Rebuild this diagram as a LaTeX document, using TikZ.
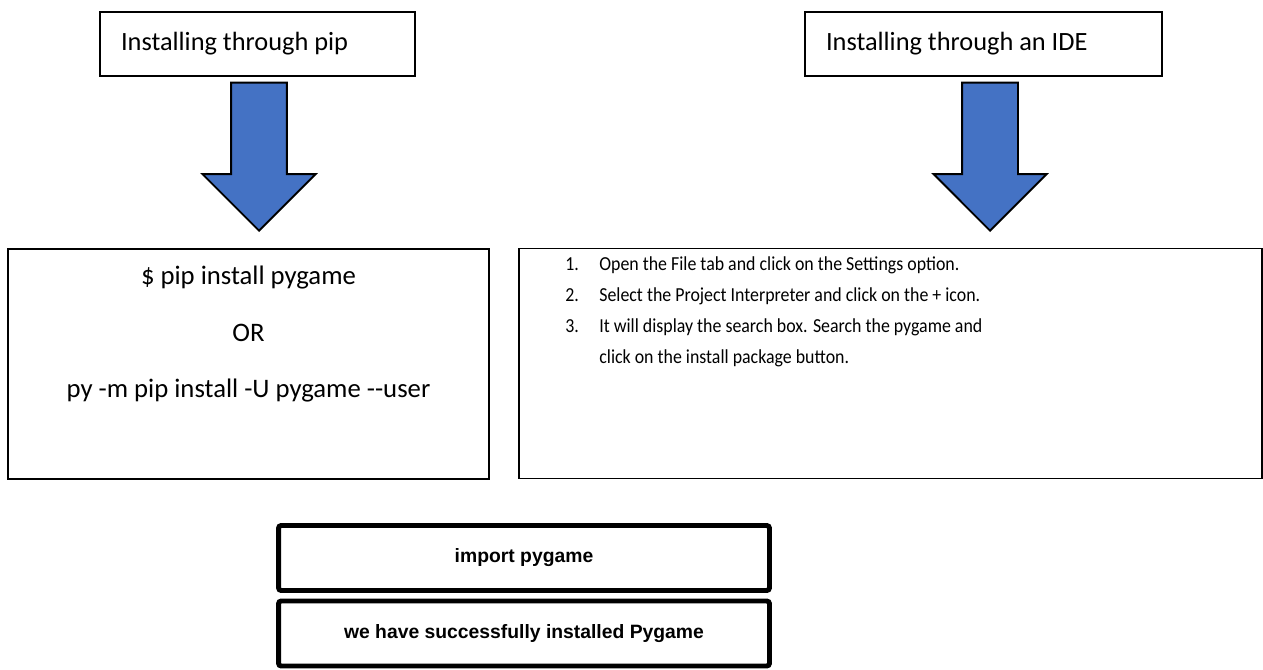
\documentclass[tikz,border=0pt]{standalone}
\usepackage{fontspec}
\setmainfont{Carlito}
\newfontfamily\arialfont{Liberation Sans}
\newfontfamily\listfont[FakeStretch=0.9]{Carlito}
\usetikzlibrary{shapes.arrows}
\definecolor{arrowblue}{HTML}{4472C4}

\begin{document}
\begin{tikzpicture}[
    x=0.02cm, y=-0.02cm,
    headbox/.style={rectangle, draw=black, line width=0.75pt, minimum height=1.28cm, inner xsep=0.42cm, align=flush left, font=\fontsize{15}{17}\selectfont},
    infobox/.style={rectangle, draw=black, line width=0.75pt, minimum height=4.6cm},
    downarrow/.style={single arrow, draw=black, line width=1.1pt, fill=arrowblue, shape border rotate=270, minimum height=2.96cm, minimum width=2.22cm, single arrow head extend=0.57cm, inner sep=0.54cm, anchor=tip},
    codebox/.style={rectangle, draw=black, line width=2.8pt, rounded corners=1.5pt, minimum width=9.82cm, minimum height=1.3cm, font=\arialfont\bfseries\fontsize{11}{13}\selectfont}
]
    \useasboundingbox (0,0) rectangle (1263,669);

    % Installing through pip
    \node[headbox, text width=5.46cm] (pipHead) at (257.5,44) {Installing through pip};

    % Installing through an IDE
    \node[headbox, text width=6.3cm] (ideHead) at (983.5,44) {Installing through an IDE};

    % block arrows
    \node[downarrow] (pipArrow) at (259,232) {};
    \node[downarrow] (ideArrow) at (990,232) {};

    % pip commands
    \node[infobox, minimum width=9.62cm] (pipCmd) at (248.5,364) {};
    \node[anchor=north, inner sep=0pt, align=center, font=\fontsize{15.2}{32}\selectfont] (pipText) at (248.5,266) {
        \$ pip install pygame\\
        OR\\
        py -m pip install -U pygame -{}-user
    };

    % IDE steps
    \node[infobox, minimum width=14.86cm] (ideSteps) at (890.5,363.5) {};
    \node[anchor=north west, inner sep=0pt, align=left, font=\listfont\fontsize{11.3}{17.7}\selectfont] (ideText) at (565,256) {
        \makebox[0.68cm][l]{1.}Open the File tab and click on the Settings option.\\
        \makebox[0.68cm][l]{2.}Select the Project Interpreter and click on the + icon.\\
        \makebox[0.68cm][l]{3.}It will display the search box. Search the pygame and\\
        \hspace*{0.68cm}click on the install package button.
    };

    % import and result
    \node[codebox] (importBox) at (524,558) {import pygame};
    \node[codebox] (doneBox) at (524,633.5) {we have successfully installed Pygame};
\end{tikzpicture}
\end{document}
